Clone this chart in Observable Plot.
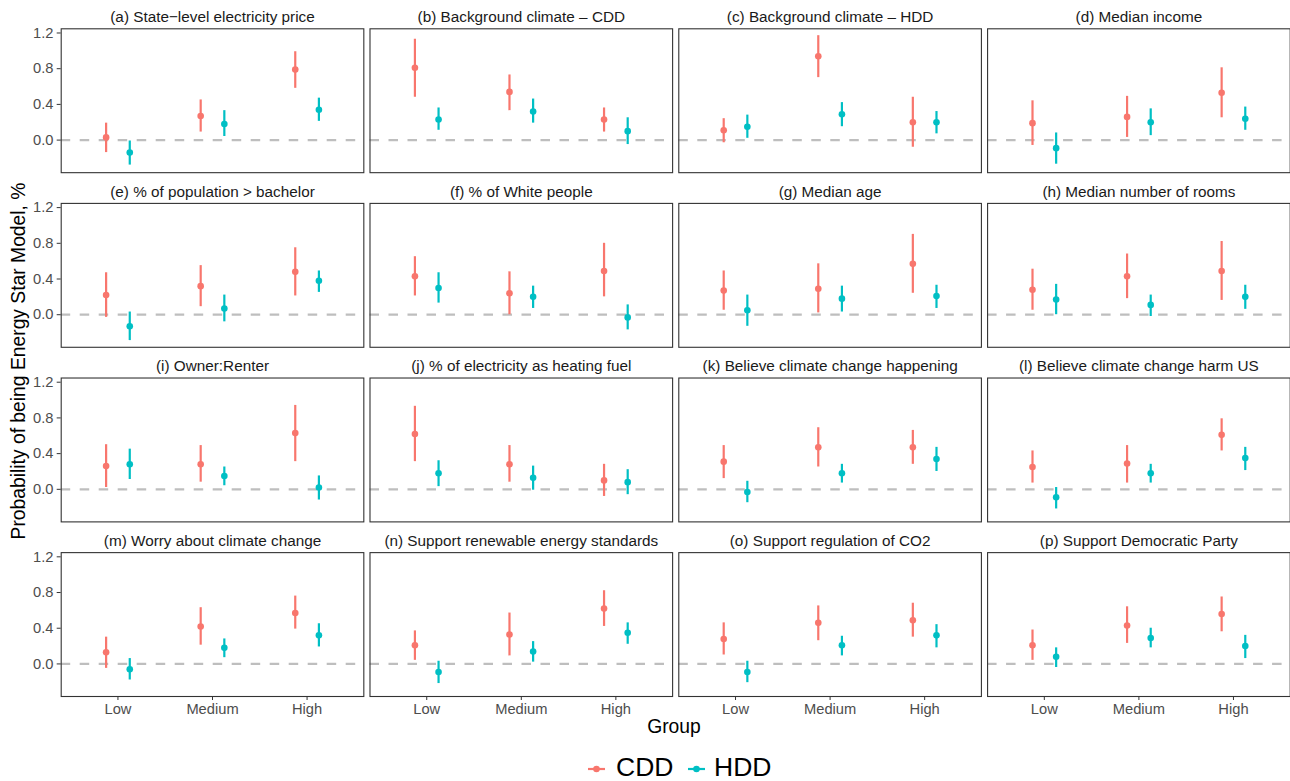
<!DOCTYPE html>
<html>
<head>
<meta charset="utf-8">
<script src="https://cdn.jsdelivr.net/npm/d3@7"></script>
<script src="https://cdn.jsdelivr.net/npm/@observablehq/plot@0.6"></script>
<style>
  body { margin: 0; background: #fff; }
  #wrap { position: relative; width: 1290px; height: 781px; overflow: hidden; background: #fff;
          font-family: "Liberation Sans", Arial, Helvetica, sans-serif; color: #000; }
  #chart { position: absolute; left: 0; top: 0; }
  .lbl { position: absolute; white-space: nowrap; line-height: 1; }
  #ytitle { left: 19.3px; top: 361px; font-size: 19.3px; transform: translate(-50%, -50%) rotate(-90deg); }
  #xtitle { left: 674px; top: 726.6px; font-size: 19.3px; transform: translate(-50%, -50%); }
  .legtext { font-size: 26.5px; line-height: 0.9; top: 756.2px; }
  .legkey { position: absolute; top: 764px; }
</style>
</head>
<body>
<div id="wrap">
  <div id="chart"></div>
  <div class="lbl" id="ytitle">Probability of being Energy Star Model, %</div>
  <div class="lbl" id="xtitle">Group</div>
  <div id="legend"></div>
</div>
<script>
// ---- data ----
const groups = ["Low", "Medium", "High"];
const series = ["CDD", "HDD"];
const colors = ["#F8766D", "#00BFC4"];
const yTicks = [0, 0.4, 0.8, 1.2];

const titles = [
  "(a) State\u2212level electricity price",
  "(b) Background climate \u2013 CDD",
  "(c) Background climate \u2013 HDD",
  "(d) Median income",
  "(e) % of population > bachelor",
  "(f) % of White people",
  "(g) Median age",
  "(h) Median number of rooms",
  "(i) Owner:Renter",
  "(j) % of electricity as heating fuel",
  "(k) Believe climate change happening",
  "(l) Believe climate change harm US",
  "(m) Worry about climate change",
  "(n) Support renewable energy standards",
  "(o) Support regulation of CO2",
  "(p) Support Democratic Party"
];

// CDD estimates, lower and upper bounds (Low, Medium, High) per panel
const cddEst = [
  [0.03, 0.27, 0.79], [0.81, 0.54, 0.23], [0.11, 0.94, 0.20], [0.19, 0.26, 0.53],
  [0.22, 0.32, 0.48], [0.43, 0.24, 0.49], [0.27, 0.29, 0.57], [0.28, 0.43, 0.49],
  [0.26, 0.28, 0.63], [0.62, 0.28, 0.10], [0.31, 0.47, 0.47], [0.25, 0.29, 0.61],
  [0.13, 0.42, 0.57], [0.21, 0.33, 0.62], [0.28, 0.46, 0.49], [0.21, 0.43, 0.56]
];
const cddLo = [
  [-0.14, 0.09, 0.58], [0.48, 0.33, 0.09], [-0.03, 0.70, -0.08], [-0.06, 0.03, 0.25],
  [-0.03, 0.09, 0.21], [0.21, 0.00, 0.20], [0.05, 0.02, 0.24], [0.05, 0.18, 0.16],
  [0.02, 0.08, 0.31], [0.31, 0.08, -0.08], [0.12, 0.25, 0.28], [0.07, 0.07, 0.43],
  [-0.05, 0.21, 0.39], [0.04, 0.09, 0.42], [0.10, 0.26, 0.30], [0.04, 0.23, 0.36]
];
const cddHi = [
  [0.19, 0.45, 0.99], [1.13, 0.73, 0.36], [0.24, 1.17, 0.48], [0.44, 0.49, 0.81],
  [0.47, 0.55, 0.75], [0.65, 0.48, 0.80], [0.49, 0.57, 0.90], [0.51, 0.68, 0.82],
  [0.50, 0.49, 0.94], [0.93, 0.49, 0.28], [0.49, 0.69, 0.66], [0.43, 0.49, 0.79],
  [0.30, 0.63, 0.76], [0.37, 0.57, 0.82], [0.46, 0.65, 0.68], [0.38, 0.64, 0.75]
];
// HDD estimates, lower and upper bounds (Low, Medium, High) per panel
const hddEst = [
  [-0.14, 0.18, 0.34], [0.23, 0.32, 0.10], [0.15, 0.29, 0.20], [-0.09, 0.20, 0.24],
  [-0.13, 0.07, 0.38], [0.30, 0.20, -0.03], [0.05, 0.18, 0.21], [0.17, 0.11, 0.20],
  [0.28, 0.15, 0.02], [0.18, 0.13, 0.08], [-0.03, 0.18, 0.34], [-0.09, 0.18, 0.35],
  [-0.06, 0.18, 0.32], [-0.09, 0.14, 0.35], [-0.09, 0.21, 0.32], [0.08, 0.29, 0.20]
];
const hddLo = [
  [-0.28, 0.04, 0.21], [0.11, 0.19, -0.05], [0.02, 0.15, 0.07], [-0.27, 0.05, 0.11],
  [-0.29, -0.08, 0.25], [0.13, 0.07, -0.17], [-0.13, 0.03, 0.07], [0.00, -0.02, 0.06],
  [0.11, 0.04, -0.12], [0.03, -0.01, -0.06], [-0.15, 0.07, 0.20], [-0.22, 0.07, 0.21],
  [-0.18, 0.07, 0.19], [-0.22, 0.02, 0.22], [-0.21, 0.09, 0.18], [-0.04, 0.18, 0.06]
];
const hddHi = [
  [-0.01, 0.33, 0.47], [0.36, 0.46, 0.25], [0.28, 0.42, 0.32], [0.08, 0.35, 0.37],
  [0.03, 0.22, 0.49], [0.47, 0.32, 0.11], [0.22, 0.32, 0.33], [0.34, 0.22, 0.33],
  [0.45, 0.25, 0.15], [0.32, 0.26, 0.22], [0.09, 0.28, 0.47], [0.02, 0.28, 0.47],
  [0.06, 0.28, 0.45], [0.03, 0.25, 0.46], [0.03, 0.31, 0.44], [0.18, 0.40, 0.32]
];

// ---- build table ----
const est = [cddEst, hddEst], lo = [cddLo, hddLo], hi = [cddHi, hddHi];
const dodge = [-0.125, 0.125];
const rows = [];
titles.forEach((t, p) => {
  groups.forEach((g, gi) => {
    series.forEach((s, si) => {
      rows.push({
        col: p % 4, row: Math.floor(p / 4), group: g, series: s,
        x: gi + 1 + dodge[si],
        est: est[si][p][gi], lo: lo[si][p][gi], hi: hi[si][p][gi]
      });
    });
  });
});
const panels = titles.map((t, p) => ({ title: t, col: p % 4, row: Math.floor(p / 4) }));

const chart = Plot.plot({
  width: 1290,
  height: 745,
  marginTop: 28.3,
  marginBottom: 49,
  marginLeft: 60.7,
  marginRight: 0.3,
  style: { fontFamily: "'Liberation Sans', Arial, Helvetica, sans-serif", fontSize: "14.7px", background: "white", color: "#000" },
  fx: { domain: [0, 1, 2, 3], paddingInner: 0.02, paddingOuter: 0, round: false, axis: null, label: null },
  fy: { domain: [0, 1, 2, 3], paddingInner: 0.176, paddingOuter: 0, round: false, axis: null, label: null },
  x: { domain: [0.4, 3.6], label: null },
  y: { domain: [-0.365, 1.247], label: null },
  color: { domain: series, range: colors },
  marks: [
    Plot.ruleY([0], { stroke: "#BEBEBE", strokeWidth: 2.2, strokeDasharray: "9.5,9.5" }),
    Plot.ruleX(rows, { fx: "col", fy: "row", x: "x", y1: "lo", y2: "hi", stroke: "series", strokeWidth: 2.2 }),
    Plot.dot(rows, { fx: "col", fy: "row", x: "x", y: "est", fill: "series", r: 3.3 }),
    Plot.frame({ stroke: "#333333", strokeWidth: 1.1 }),
    Plot.text(panels, { fx: "col", fy: "row", text: "title", frameAnchor: "top", lineAnchor: "middle", dy: -11.8, fontSize: 15.3, fill: "#1A1A1A" }),
    Plot.axisY({ ticks: yTicks, tickFormat: d3.format(".1f"), tickSize: 4, tickPadding: 3.7, stroke: "#333333", fill: "#4D4D4D", fontSize: 14.7, label: null }),
    Plot.axisX({ ticks: [1, 2, 3], tickFormat: d => groups[d - 1], tickSize: 4, tickPadding: 2.7, stroke: "#333333", fill: "#4D4D4D", fontSize: 14.7, label: null })
  ]
});
document.getElementById("chart").appendChild(chart);

// ---- legend ----
const legend = d3.select("#legend");
const keyX = [588.3, 687.7];
const textX = [616, 714];
series.forEach((s, i) => {
  const svg = legend.append("svg").attr("class", "legkey")
    .style("left", keyX[i] + "px").attr("width", 17).attr("height", 10);
  svg.append("line").attr("x1", 0).attr("x2", 17).attr("y1", 5).attr("y2", 5)
    .attr("stroke", colors[i]).attr("stroke-width", 2.2);
  svg.append("circle").attr("cx", 8.5).attr("cy", 5).attr("r", 3.3).attr("fill", colors[i]);
  legend.append("div").attr("class", "lbl legtext").style("left", textX[i] + "px").text(s);
});
</script>
</body>
</html>
